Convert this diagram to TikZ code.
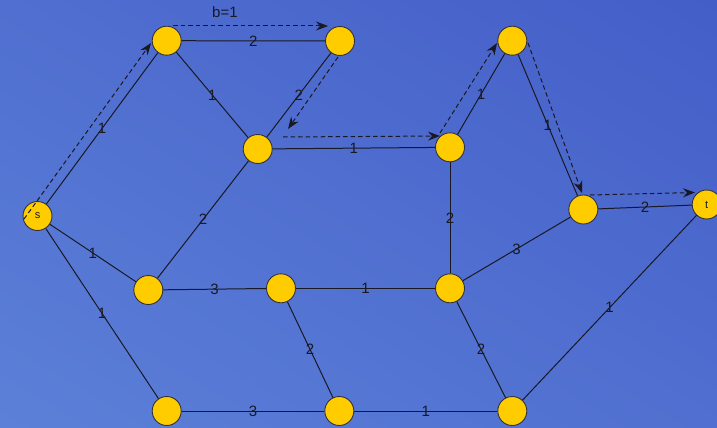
\documentclass[tikz,border=0pt]{standalone}
\usepackage{fontspec}
\setmainfont{Liberation Sans}
\usetikzlibrary{arrows.meta,shadings}
\definecolor{bgA}{RGB}{92,128,216}
\definecolor{bgB}{RGB}{68,94,200}
\definecolor{bgM}{RGB}{80,111,208}
\definecolor{nodefill}{RGB}{255,204,0}
\definecolor{nodeline}{RGB}{50,50,60}
\definecolor{ink}{RGB}{25,25,35}
\begin{document}
\begin{tikzpicture}[x=1pt,y=-1pt,
  vertex/.style={circle,draw=nodeline,fill=nodefill,line width=0.9pt,minimum size=29pt,inner sep=0pt,font=\fontsize{11}{13}\selectfont,text=ink},
  edge/.style={draw=ink,line width=1pt},
  wlabel/.style={font=\fontsize{15}{17}\selectfont,text=ink,inner sep=0pt},
  flow/.style={draw=ink,line width=1pt,dash pattern=on 4.5pt off 3pt,-{Stealth[length=12pt,width=9pt,inset=4pt]}}]
\useasboundingbox (0,0) rectangle (717,428);
\shade[upper left=bgM, lower left=bgA, upper right=bgB, lower right=bgM] (0,0) rectangle (717,428);
% nodes
\node[vertex] (s) at (37.5,216) {s};
\node[vertex] (A) at (166.7,40.7) {};
\node[vertex] (B) at (340,41) {};
\node[vertex] (C) at (257.7,149) {};
\node[vertex] (D) at (450,147.3) {};
\node[vertex] (E) at (512.3,40.7) {};
\node[vertex] (F) at (583.3,209.5) {};
\node[vertex] (t) at (706.7,204.5) {t};
\node[vertex] (G) at (148.3,290) {};
\node[vertex] (H) at (281,288.3) {};
\node[vertex] (I) at (450,288.3) {};
\node[vertex] (J) at (166.7,411) {};
\node[vertex] (K) at (339.3,411) {};
\node[vertex] (L) at (512.3,411) {};
% weighted edges
\draw[edge] (s) -- node[wlabel]{1} (A);
\draw[edge] (s) -- node[wlabel]{1} (G);
\draw[edge] (s) -- node[wlabel]{1} (J);
\draw[edge] (A) -- node[wlabel]{2} (B);
\draw[edge] (A) -- node[wlabel]{1} (C);
\draw[edge] (B) -- node[wlabel]{2} (C);
\draw[edge] (C) -- node[wlabel]{1} (D);
\draw[edge] (C) -- node[wlabel]{2} (G);
\draw[edge] (G) -- node[wlabel]{3} (H);
\draw[edge] (H) -- node[wlabel]{1} (I);
\draw[edge] (D) -- node[wlabel]{1} (E);
\draw[edge] (D) -- node[wlabel]{2} (I);
\draw[edge] (E) -- node[wlabel]{1} (F);
\draw[edge] (F) -- node[wlabel]{2} (t);
\draw[edge] (I) -- node[wlabel]{3} (F);
\draw[edge] (H) -- node[wlabel]{2} (K);
\draw[edge] (I) -- node[wlabel]{2} (L);
\draw[edge] (J) -- node[wlabel]{3} (K);
\draw[edge] (K) -- node[wlabel]{1} (L);
\draw[edge] (L) -- node[wlabel]{1} (t);
% flow path
\coordinate (f1a) at (24,219);  \coordinate (f1b) at (151,43);
\coordinate (f2a) at (173,26);  \coordinate (f2b) at (328,26);
\coordinate (f3a) at (338,57);  \coordinate (f3b) at (288,129);
\coordinate (f4a) at (283,137); \coordinate (f4b) at (440,136);
\coordinate (f5a) at (440,133); \coordinate (f5b) at (497,43);
\coordinate (f6a) at (528,43);  \coordinate (f6b) at (582,193);
\coordinate (f7a) at (590,195); \coordinate (f7b) at (695,192.5);
\draw[flow] (f1a) -- (f1b);
\draw[flow] (f2a) -- node[wlabel,pos=0.335,above=8pt]{b=1} (f2b);
\draw[flow] (f3a) -- (f3b);
\draw[flow] (f4a) -- (f4b);
\draw[flow] (f5a) -- (f5b);
\draw[flow] (f6a) -- (f6b);
\draw[flow] (f7a) -- (f7b);
\end{tikzpicture}
\end{document}
